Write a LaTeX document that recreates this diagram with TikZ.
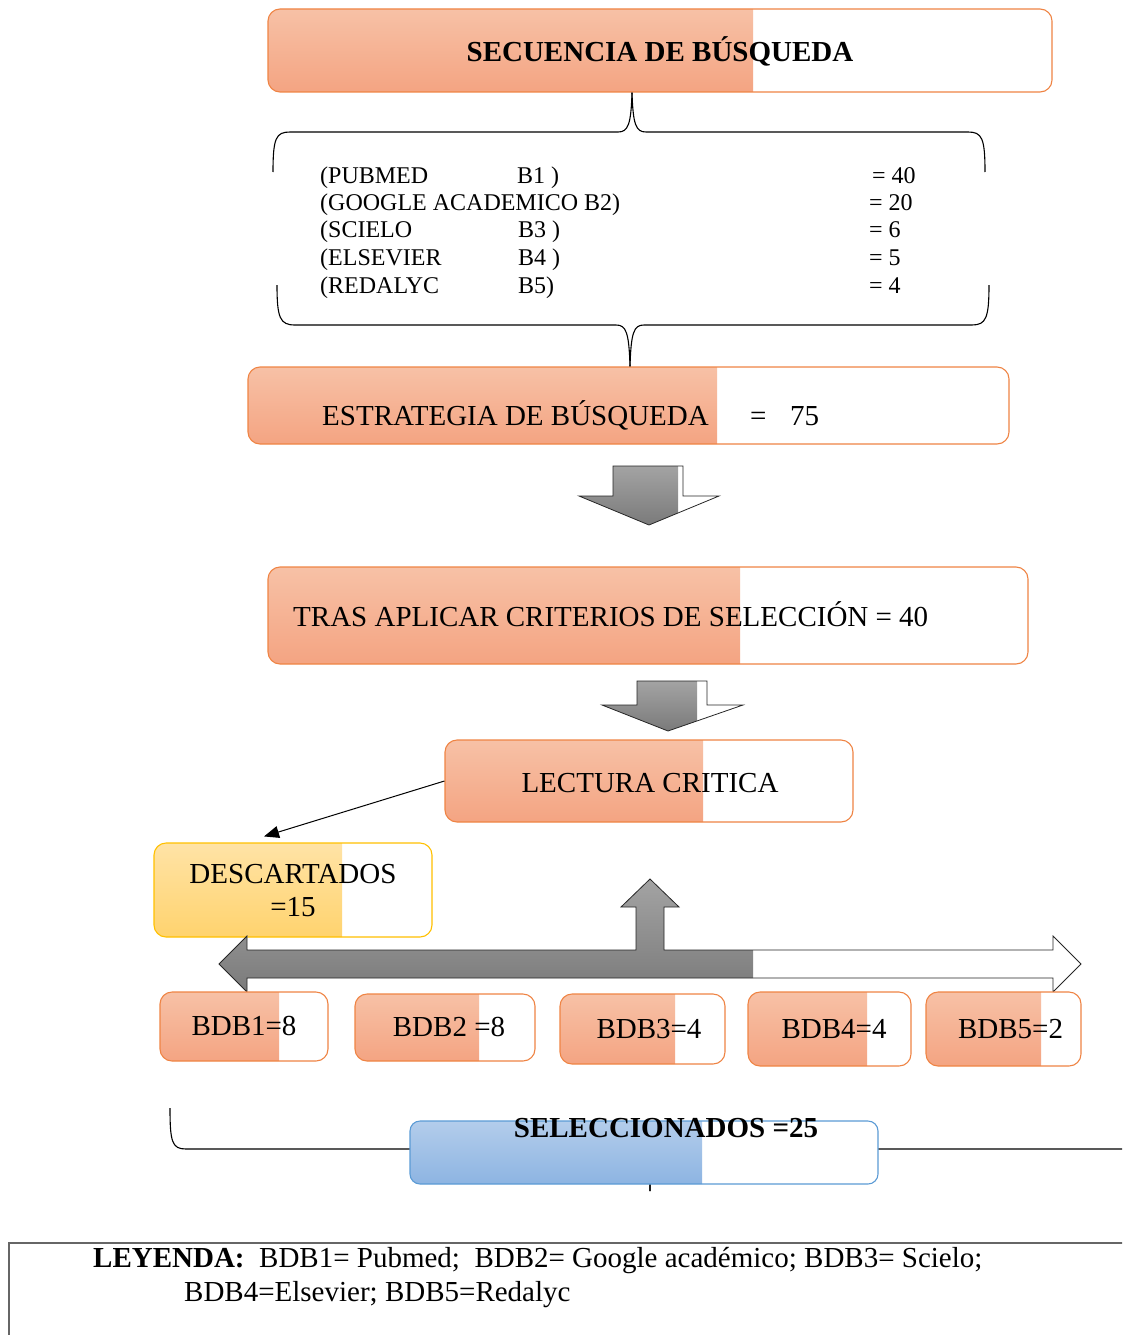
\documentclass[tikz,border=0pt]{standalone}
\usepackage{fontspec}
\setmainfont{Liberation Serif}
\usetikzlibrary{arrows.meta}
\definecolor{ortop}{HTML}{F7C1A6}
\definecolor{orbot}{HTML}{F4A482}
\definecolor{orline}{HTML}{EF8444}
\definecolor{yetop}{HTML}{FFE3A6}
\definecolor{yebot}{HTML}{FFD36E}
\definecolor{yeline}{HTML}{FFC000}
\definecolor{bltop}{HTML}{B3CDEB}
\definecolor{blbot}{HTML}{8DB4E2}
\definecolor{blline}{HTML}{5B9BD5}
\tikzset{
  pbox/.style={draw=orline, line width=1.1pt, rounded corners=12pt, fill=white, inner sep=0pt,
    path picture={\shade[sharp corners, top color=ortop, bottom color=orbot] (path picture bounding box.north west) rectangle ([xshift=#1]path picture bounding box.south west);}},
  ybox/.style={draw=yeline, line width=1.1pt, rounded corners=12pt, fill=white, inner sep=0pt,
    path picture={\shade[sharp corners, top color=yetop, bottom color=yebot] (path picture bounding box.north west) rectangle ([xshift=#1]path picture bounding box.south west);}},
  bbox/.style={draw=blline, line width=1.1pt, rounded corners=10pt, fill=white, inner sep=0pt,
    path picture={\shade[sharp corners, top color=bltop, bottom color=blbot] (path picture bounding box.north west) rectangle ([xshift=#1]path picture bounding box.south west);}},
  garrow/.style={draw=black!85, line width=0.8pt, fill=white,
    path picture={\shade[top color=black!36, bottom color=black!52] (path picture bounding box.north west) rectangle ([xshift=#1]path picture bounding box.south west);}},
  tx/.style={font=\fontsize{29}{34}\selectfont, inner sep=0pt},
  tl/.style={font=\fontsize{24}{28}\selectfont, inner sep=0pt, anchor=base west},
  brace/.style={draw=black, line width=1.1pt},
}
\begin{document}
\begin{tikzpicture}[x=1pt,y=-1pt]
\useasboundingbox (0,0) rectangle (1122,1335);
\clip (0,0) rectangle (1122,1335);

% top box
\node[pbox=485pt, minimum width=784pt, minimum height=83pt] (secbox) at (660,50.5) {};
\node[tx, anchor=base, font=\fontsize{29}{34}\selectfont\bfseries] (sectxt) at (660,62) {SECUENCIA DE BÚSQUEDA};

% top brace
\coordinate (bt1) at ([xshift=-28pt]secbox.south);
\draw[brace] (273,172) .. controls (273,138) and (276,132) .. (290,132) -- (618,132) .. controls (628,132) and (631,125) .. (bt1);
\draw[brace] (bt1) .. controls (633,125) and (636,132) .. (646,132) -- (968,132) .. controls (982,132) and (985,138) .. (985,172);

% list
\node[tl] (l1) at (320,183) {\makebox[197pt][l]{(PUBMED}B1 )};
\node[tl] (l2) at (320,210) {(GOOGLE ACADEMICO B2)};
\node[tl] (l3) at (320,237) {\makebox[198pt][l]{(SCIELO}B3 )};
\node[tl] (l4) at (320,265) {\makebox[198pt][l]{(ELSEVIER}B4 )};
\node[tl] (l5) at (320,293) {\makebox[198pt][l]{(REDALYC}B5)};
\node[tl] (r1) at (872,183) {= 40};
\node[tl] (r2) at (869,210) {= 20};
\node[tl] (r3) at (869,237) {= 6};
\node[tl] (r4) at (869,265) {= 5};
\node[tl] (r5) at (869,293) {= 4};

% estrategia box
\node[pbox=469pt, minimum width=761pt, minimum height=77pt] (estbox) at (628.5,405.5) {};
\coordinate (bt2) at ([xshift=1.5pt]estbox.north);
\draw[brace] (277,285) .. controls (277,318) and (280,325) .. (295,325) -- (616,325) .. controls (626,325) and (629,332) .. (bt2);
\draw[brace] (bt2) .. controls (631,332) and (634,325) .. (644,325) -- (972,325) .. controls (986,325) and (989,318) .. (989,285);
\node[tx, anchor=base west] (esttxt) at (322,425) {ESTRATEGIA DE BÚSQUEDA};
\node[tx, anchor=base west] (esteq) at (750,425) {=};
\node[tx, anchor=base west] (estnum) at (790,425) {75};

% arrow 1
\draw[garrow=99pt] (613,466) -- (683,466) -- (683,496) -- (719,496) -- (649,525) -- (579,496) -- (613,496) -- cycle;

% tras box
\node[pbox=472pt, minimum width=760pt, minimum height=97pt] (trasbox) at (648,615.5) {};
\node[tx, anchor=base west] (trastxt) at (293,626) {TRAS APLICAR CRITERIOS DE SELECCIÓN = 40};

% arrow 2
\draw[garrow=95pt] (637,681) -- (707,681) -- (707,705) -- (743,705) -- (668,731) -- (602,705) -- (637,705) -- cycle;

% lectura
\node[pbox=258pt, minimum width=408pt, minimum height=82pt] (lecbox) at (649,781) {};
\node[tx, anchor=base] (lectxt) at (650,792) {LECTURA CRITICA};

% descartados
\node[ybox=188pt, minimum width=278pt, minimum height=94pt] (descbox) at (293,890) {};
\node[tx, anchor=base] (desctxt) at (293,883) {DESCARTADOS};
\node[tx, anchor=base] (descnum) at (293,916) {=15};
\coordinate (dtip) at ([xshift=-29pt,yshift=6pt]descbox.north);
\draw[line width=1pt, -{Triangle[length=15pt,width=12pt]}] (lecbox.west) -- (dtip);

% big double arrow
\draw[garrow=534pt] (219,964) -- (247,936) -- (247,950) -- (636,950) -- (636,907) -- (621,907) -- (650,879) -- (679,907) -- (664,907) -- (664,950) -- (1053,950) -- (1053,936) -- (1081,964) -- (1053,992) -- (1053,978) -- (247,978) -- (247,992) -- cycle;

% BDB boxes
\node[pbox=119pt, minimum width=168pt, minimum height=69pt] (b1) at (244,1026.5) {};
\node[pbox=124pt, minimum width=180pt, minimum height=67pt] (b2) at (445,1027.5) {};
\node[pbox=115pt, minimum width=165pt, minimum height=70pt] (b3) at (642.5,1029) {};
\node[pbox=119pt, minimum width=163pt, minimum height=74pt] (b4) at (829.5,1029) {};
\node[pbox=115pt, minimum width=155pt, minimum height=74pt] (b5) at (1003.5,1029) {};
\node[tx, anchor=base] (b1t) at (244,1035) {BDB1=8};
\node[tx, anchor=base] (b2t) at (449,1036) {BDB2 =8};
\node[tx, anchor=base] (b3t) at (649,1038) {BDB3=4};
\node[tx, anchor=base] (b4t) at (834,1038) {BDB4=4};
\node[tx, anchor=base] (b5t) at (1010.5,1038) {BDB5=2};

% bottom brace and seleccionados
\coordinate (bt3) at (650,1191);
\draw[brace] (170,1108) .. controls (170,1142) and (172,1149) .. (186,1149) -- (640,1149) .. controls (647,1149) and (650,1158) .. (bt3);
\draw[brace] (bt3) .. controls (650,1158) and (653,1149) .. (660,1149) -- (1130,1149);
\node[bbox=292pt, minimum width=468pt, minimum height=63pt] (selbox) at (644,1152.5) {};
\node[tx, anchor=base, font=\fontsize{29}{34}\selectfont\bfseries] (seltxt) at (666,1137) {SELECCIONADOS =25};

% legend
\draw[black!60, line width=1.2pt] (9,1340) -- (9,1243) -- (1130,1243);
\node[tx, anchor=base west] (ley1) at (93,1267) {\textbf{LEYENDA:}\ \ BDB1= Pubmed;\ \ BDB2= Google académico; BDB3= Scielo;};
\node[tx, anchor=base west] (ley2) at (184,1301) {BDB4=Elsevier; BDB5=Redalyc};
\end{tikzpicture}
\end{document}
